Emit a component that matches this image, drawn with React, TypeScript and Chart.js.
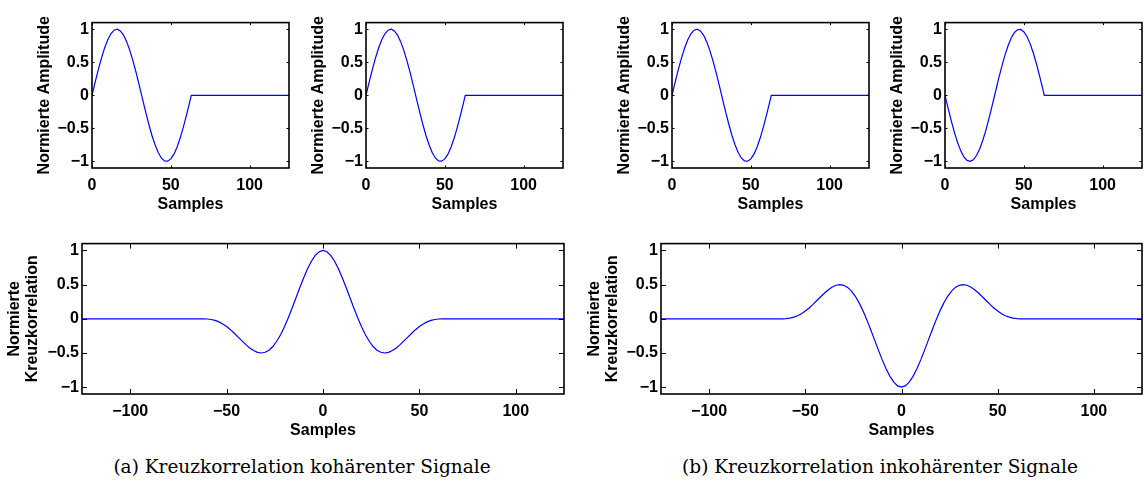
import React, { useEffect, useRef } from "react";
import { Chart, registerables } from "chart.js";

Chart.register(...registerables);

// ---------- data ----------
const sampleIdx = [
  0, 2, 4, 6, 8, 10, 12, 14, 16, 18, 20, 22, 24, 26, 28, 30, 32, 34, 36, 38, 40,
  42, 44, 46, 48, 50, 52, 54, 56, 58, 60, 62, 63, 125,
];
// Signal with positive first half-wave (plots 1, 2, 3)
const pulsePos = [
  0, 0.198, 0.388, 0.563, 0.716, 0.84, 0.931, 0.985, 1, 0.975, 0.911, 0.812,
  0.68, 0.522, 0.342, 0.149, -0.05, -0.247, -0.434, -0.604, -0.749, -0.866,
  -0.948, -0.992, -0.997, -0.963, -0.89, -0.782, -0.643, -0.478, -0.295, -0.1,
  0, 0,
];
// Signal with negative first half-wave (plot 4)
const pulseNeg = [
  0, -0.198, -0.388, -0.563, -0.716, -0.84, -0.931, -0.985, -1, -0.975, -0.911,
  -0.812, -0.68, -0.522, -0.342, -0.149, 0.05, 0.247, 0.434, 0.604, 0.749, 0.866,
  0.948, 0.992, 0.997, 0.963, 0.89, 0.782, 0.643, 0.478, 0.295, 0.1, 0, 0,
];

const lagIdx = [
  -127, -64, -62, -60, -58, -56, -54, -52, -50, -48, -46, -44, -42, -40, -38, -36,
  -34, -32, -30, -28, -26, -24, -22, -20, -18, -16, -14, -12, -10, -8, -6, -4, -2,
  0, 2, 4, 6, 8, 10, 12, 14, 16, 18, 20, 22, 24, 26, 28, 30, 32, 34, 36, 38, 40,
  42, 44, 46, 48, 50, 52, 54, 56, 58, 60, 62, 64, 127,
];
const corrCoherent = [
  0, 0, 0, -0.003, -0.01, -0.024, -0.045, -0.075, -0.113, -0.159, -0.211, -0.267,
  -0.323, -0.378, -0.426, -0.465, -0.491, -0.5, -0.49, -0.459, -0.405, -0.329,
  -0.233, -0.116, 0.016, 0.159, 0.308, 0.458, 0.601, 0.731, 0.842, 0.927, 0.981,
  1,
  0.981, 0.927, 0.842, 0.731, 0.601, 0.458, 0.308, 0.159, 0.016, -0.116, -0.233,
  -0.329, -0.405, -0.459, -0.49, -0.5, -0.491, -0.465, -0.426, -0.378, -0.323,
  -0.267, -0.211, -0.159, -0.113, -0.075, -0.045, -0.024, -0.01, -0.003, 0, 0, 0,
];
const corrIncoherent = [
  0, 0, 0, 0.003, 0.01, 0.024, 0.045, 0.075, 0.113, 0.159, 0.211, 0.267, 0.323,
  0.378, 0.426, 0.465, 0.491, 0.5, 0.49, 0.459, 0.405, 0.329, 0.233, 0.116,
  -0.016, -0.159, -0.308, -0.458, -0.601, -0.731, -0.842, -0.927, -0.981,
  -1,
  -0.981, -0.927, -0.842, -0.731, -0.601, -0.458, -0.308, -0.159, -0.016, 0.116,
  0.233, 0.329, 0.405, 0.459, 0.49, 0.5, 0.491, 0.465, 0.426, 0.378, 0.323,
  0.267, 0.211, 0.159, 0.113, 0.075, 0.045, 0.024, 0.01, 0.003, 0, 0, 0,
];

const xTicksSamples = [0, 50, 100];
const xTicksLag = [-100, -50, 0, 50, 100];
const yTicks = [-1, -0.5, 0, 0.5, 1];

const xLabel = "Samples";
const yLabelAmp = "Normierte Amplitude";
const yLabelCorr = ["Normierte", "Kreuzkorrelation"];
const captionA = "(a) Kreuzkorrelation kohärenter Signale";
const captionB = "(b) Kreuzkorrelation inkohärenter Signale";

// ---------- layout ----------
const SANS = "'Liberation Sans', Arial, Helvetica, sans-serif";
const PT = 5; // space above plot box in canvas
const PR = 3; // space right of plot box in canvas
const AXH = 46; // x-axis block height

type Spec = {
  l: number; t: number; r: number; b: number;
  axw: number; titlePad: number; titleLH: number;
  xs: number[]; ys: number[];
  xMin: number; xMax: number; xTicks: number[];
  yLabel: string | string[];
  tickLen: number;
};

const fmt = (v: number | string) => String(v).replace("-", "\u2212");

const boxPlugin = {
  id: "matlabBox",
  afterDatasetsDraw(chart: any) {
    const { ctx, chartArea, scales } = chart;
    const { left, top, right, bottom } = chartArea;
    const tl = chart.options.plugins.matlabBox?.tickLen ?? 3;
    ctx.save();
    ctx.strokeStyle = "#000";
    ctx.lineWidth = 1;
    ctx.beginPath();
    scales.x.ticks.forEach((t: any) => {
      const px = Math.round(scales.x.getPixelForValue(t.value)) + 0.5;
      ctx.moveTo(px, bottom);
      ctx.lineTo(px, bottom - tl);
      ctx.moveTo(px, top);
      ctx.lineTo(px, top + tl);
    });
    scales.y.ticks.forEach((t: any) => {
      const py = Math.round(scales.y.getPixelForValue(t.value)) + 0.5;
      ctx.moveTo(left, py);
      ctx.lineTo(left + tl, py);
      ctx.moveTo(right, py);
      ctx.lineTo(right - tl, py);
    });
    ctx.stroke();
    ctx.lineWidth = 1.6;
    ctx.strokeRect(left, top, right - left, bottom - top);
    ctx.restore();
  },
};

function Plot({ s }: { s: Spec }) {
  const ref = useRef<HTMLCanvasElement>(null);
  const cw = s.axw + (s.r - s.l) + PR;
  const ch = PT + (s.b - s.t) + AXH;
  const cl = s.l - s.axw;
  const ct = s.t - PT;
  useEffect(() => {
    const tickFont = { family: SANS, weight: "bold" as const, size: 16 };
    const chart = new Chart(ref.current as HTMLCanvasElement, {
      type: "line",
      data: {
        datasets: [
          {
            data: s.xs.map((x, i) => ({ x, y: s.ys[i] })),
            borderColor: "#0000ff",
            borderWidth: 1.2,
            pointRadius: 0,
            tension: 0,
            fill: false,
          },
        ],
      },
      options: {
        animation: false,
        responsive: false,
        maintainAspectRatio: false,
        devicePixelRatio: 1,
        events: [],
        layout: { padding: { top: PT, right: PR, left: 0, bottom: 0 } },
        plugins: {
          legend: { display: false },
          tooltip: { enabled: false },
          matlabBox: { tickLen: s.tickLen },
        } as any,
        scales: {
          x: {
            type: "linear",
            min: s.xMin,
            max: s.xMax,
            afterBuildTicks: (sc: any) => {
              sc.ticks = s.xTicks.map((v) => ({ value: v }));
            },
            afterFit: (sc: any) => {
              sc.height = AXH;
            },
            grid: { display: false, drawTicks: false },
            border: { display: false },
            ticks: {
              font: tickFont,
              color: "#000",
              padding: 8,
              maxRotation: 0,
              autoSkip: false,
              callback: (v: any) => fmt(v),
            },
            title: {
              display: true,
              text: xLabel,
              color: "#000",
              font: { family: SANS, weight: "bold", size: 16, lineHeight: 1.2 },
              padding: { top: 0, bottom: 0 },
            },
          },
          y: {
            type: "linear",
            min: -1.1,
            max: 1.1,
            afterBuildTicks: (sc: any) => {
              sc.ticks = yTicks.map((v) => ({ value: v }));
            },
            afterFit: (sc: any) => {
              sc.width = s.axw;
            },
            grid: { display: false, drawTicks: false },
            border: { display: false },
            ticks: {
              font: tickFont,
              color: "#000",
              padding: 3,
              autoSkip: false,
              callback: (v: any) => fmt(v),
            },
            title: {
              display: true,
              text: s.yLabel,
              color: "#000",
              font: { family: SANS, weight: "bold", size: 16, lineHeight: s.titleLH },
              padding: { top: s.titlePad, bottom: 0 },
            },
          },
        },
      } as any,
      plugins: [boxPlugin],
    });
    return () => chart.destroy();
  }, []);
  return (
    <canvas
      ref={ref}
      width={cw}
      height={ch}
      style={{ position: "absolute", left: cl, top: ct, width: cw, height: ch }}
    />
  );
}

const TOP_T = 15;
const TOP_B = 168;
const BOT_T = 236;
const BOT_B = 394;

const topBase = {
  t: TOP_T, b: TOP_B, axw: 62, titlePad: 5.4, titleLH: 1.2,
  xs: sampleIdx, xMin: 0, xMax: 125, xTicks: xTicksSamples,
  yLabel: yLabelAmp, tickLen: 2.5,
};
const botBase = {
  t: BOT_T, b: BOT_B, axw: 82, titlePad: 6, titleLH: 1.125,
  xs: lagIdx, xMin: -125, xMax: 125, xTicks: xTicksLag,
  yLabel: yLabelCorr, tickLen: 5,
};

const specs: Spec[] = [
  { ...topBase, l: 92, r: 289, ys: pulsePos },
  { ...topBase, l: 366, r: 563, ys: pulsePos },
  { ...topBase, l: 672, r: 869, ys: pulsePos },
  { ...topBase, l: 945, r: 1142, ys: pulseNeg },
  { ...botBase, l: 82, r: 564, ys: corrCoherent },
  { ...botBase, l: 661, r: 1142, axw: 81, ys: corrIncoherent },
];

const captionStyle: React.CSSProperties = {
  position: "absolute",
  top: 454,
  width: 560,
  textAlign: "center",
  fontFamily: "'DejaVu Serif', 'Liberation Serif', serif",
  fontSize: 18.5,
  lineHeight: "26px",
  color: "#000",
  whiteSpace: "nowrap",
};

export default function App() {
  return (
    <div
      style={{
        position: "absolute",
        left: 0,
        top: 0,
        width: 1144,
        height: 483,
        overflow: "hidden",
        background: "#fff",
      }}
    >
      {specs.map((s, i) => (
        <Plot key={i} s={s} />
      ))}
      <div style={{ ...captionStyle, left: 302 - 280 }}>{captionA}</div>
      <div style={{ ...captionStyle, left: 880 - 280 }}>{captionB}</div>
    </div>
  );
}
